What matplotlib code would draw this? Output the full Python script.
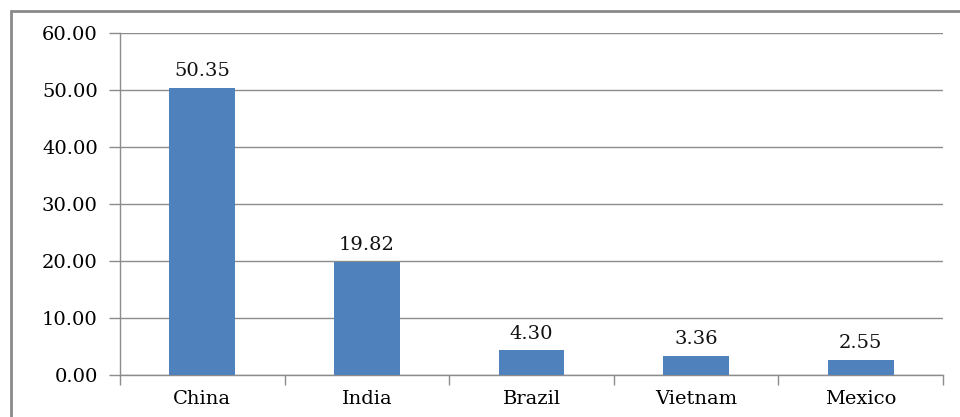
import matplotlib
matplotlib.use("Agg")
import matplotlib.pyplot as plt
from matplotlib.patches import Rectangle

countries = ["China", "India", "Brazil", "Vietnam", "Mexico"]
values = [50.35, 19.82, 4.30, 3.36, 2.55]
yticks = [0, 10, 20, 30, 40, 50, 60]

plt.rcParams['font.family'] = ['DejaVu Serif']
FS = 14

fig = plt.figure(figsize=(9.6, 4.17), dpi=100)
ax = fig.add_axes([0.125, 0.1007, 0.8573, 0.8202])

x = range(len(countries))
bars = ax.bar(x, values, width=0.4, color="#4F81BD", zorder=3)
for xi, v in zip(x, values):
    ax.text(xi, v + 1.4, f"{v:.2f}", ha="center", va="bottom", fontsize=FS, color="#111111")

ax.set_xlim(-0.5, len(countries) - 0.5)
ax.set_ylim(0, 60)
ax.set_yticks(yticks)
ax.set_yticklabels([f"{t:.2f}" for t in yticks], fontsize=FS)
ax.yaxis.grid(True, color="#8c8c8c", linewidth=1, zorder=0)
ax.set_xticks(list(x))
ax.set_xticklabels(countries, fontsize=FS)
ax.tick_params(axis="x", length=0, pad=11)
ax.set_xticks([i - 0.5 for i in range(len(countries) + 1)], minor=True)
ax.tick_params(axis="x", which="minor", length=7, color="#8c8c8c", width=1)
ax.tick_params(axis="y", length=8, color="#8c8c8c", width=1, pad=8)

for s in ["top", "right"]:
    ax.spines[s].set_visible(False)
for s in ["left", "bottom"]:
    ax.spines[s].set_color("#8c8c8c")
    ax.spines[s].set_linewidth(1)

border = Rectangle((11 / 960, -0.05), 1.1, 1 - 11 / 417 + 0.05, transform=fig.transFigure,
                   fill=False, edgecolor="#8a8a8a", linewidth=2, clip_on=False)
fig.patches.append(border)

fig.savefig("out.png", dpi=100)
